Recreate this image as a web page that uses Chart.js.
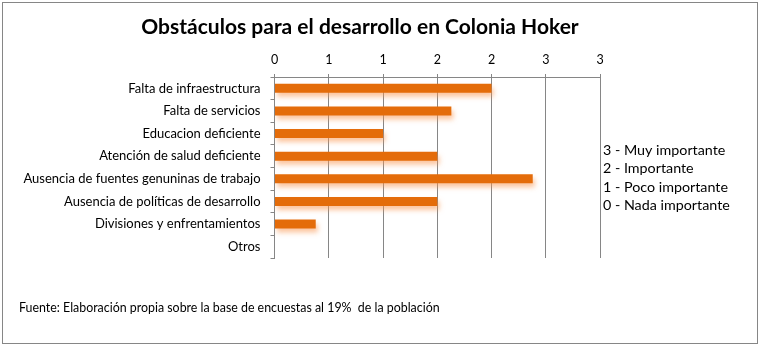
<!DOCTYPE html>
<html>
<head>
<meta charset="utf-8">
<script src="https://cdn.jsdelivr.net/npm/chart.js@4.4.0/dist/chart.umd.min.js"></script>
<style>
  html, body { margin: 0; padding: 0; background: #fff; }
  #wrap { width: 761px; height: 347px; }
</style>
</head>
<body>
<div id="wrap"><canvas id="c" width="761" height="347"></canvas></div>
<script>
const titleText = "Obstáculos para el desarrollo en Colonia Hoker";
const categories = [
  "Falta de infraestructura",
  "Falta de servicios",
  "Educacion deficiente",
  "Atención de salud deficiente",
  "Ausencia de fuentes genuninas de trabajo",
  "Ausencia de políticas de desarrollo",
  "Divisiones y enfrentamientos",
  "Otros"
];
const values = [2.0, 1.63, 1.0, 1.5, 2.38, 1.5, 0.38, 0];
const xMin = 0, xMax = 3, xStep = 0.5;
const legendLines = [
  "3 - Muy importante",
  "2 - Importante",
  "1 - Poco importante",
  "0 - Nada importante"
];
const footerText = "Fuente: Elaboración propia sobre la base de encuestas al 19%  de la población";

const FONT = "Lato, 'Liberation Sans', sans-serif";
const GRAY = "#868686";
Chart.defaults.font.family = FONT;
Chart.defaults.color = "#000";

const deco = {
  id: "deco",
  beforeDatasetsDraw(chart) {
    const ctx = chart.ctx;
    ctx.save();
    ctx.shadowColor = "rgba(250,150,80,0.55)";
    ctx.shadowBlur = 5;
    ctx.shadowOffsetX = 2;
    ctx.shadowOffsetY = 4;
  },
  afterDatasetsDraw(chart) {
    chart.ctx.restore();
  },
  afterDraw(chart) {
    const ctx = chart.ctx;
    ctx.save();
    ctx.strokeStyle = GRAY;
    ctx.lineWidth = 1;
    ctx.strokeRect(2.5, 2.5, 755, 341);
    ctx.fillStyle = "#000";
    ctx.textBaseline = "alphabetic";
    ctx.textAlign = "center";
    ctx.font = "bold 21px " + FONT;
    ctx.fillText(titleText, 360, 34);
    ctx.textAlign = "left";
    ctx.font = "14.3px " + FONT;
    legendLines.forEach((t, i) => ctx.fillText(t, 603, 155 + i * 18.4));
    ctx.font = "12.4px " + FONT;
    ctx.fillText(footerText, 19, 312);
    ctx.restore();
  }
};

new Chart(document.getElementById("c"), {
  type: "bar",
  data: {
    labels: categories,
    datasets: [{
      data: values,
      backgroundColor: "#E46C0A",
      borderWidth: 0,
      barPercentage: 0.4,
      categoryPercentage: 1.0
    }]
  },
  options: {
    indexAxis: "y",
    responsive: false,
    animation: false,
    events: [],
    layout: { padding: { left: 0, top: 40, right: 161, bottom: 89 } },
    plugins: { legend: { display: false }, title: { display: false }, tooltip: { enabled: false } },
    scales: {
      x: {
        position: "top",
        min: xMin, max: xMax,
        afterFit(s) { s.height = 37; },
        ticks: {
          stepSize: xStep,
          padding: 7,
          font: { size: 12.5 },
          color: "#000",
          callback: (v) => String(Math.round(v))
        },
        grid: { color: GRAY, lineWidth: 1, tickLength: 3, tickColor: GRAY },
        border: { color: GRAY, width: 1 }
      },
      y: {
        afterFit(s) { s.width = 274.5; },
        ticks: { padding: 10, font: { size: 13 }, color: "#000", autoSkip: false },
        grid: { drawOnChartArea: false, drawTicks: true, tickLength: 4, color: GRAY, offset: true },
        border: { color: GRAY, width: 1 }
      }
    }
  },
  plugins: [deco]
});
</script>
</body>
</html>
